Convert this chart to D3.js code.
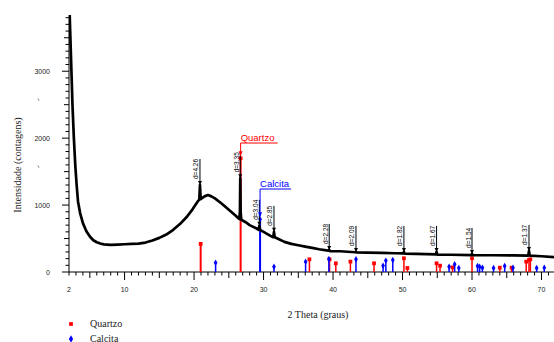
<!DOCTYPE html>
<html><head><meta charset="utf-8">
<script src="https://cdn.jsdelivr.net/npm/d3@7"></script>
<style>body{margin:0;background:#fff}svg{display:block}</style>
</head><body>
<script>
// ---- data ----
const theta = [2.0,2.1,2.2,2.35,2.5,2.7,2.9,3.1,3.3,3.6,4.0,4.5,5.0,5.5,6.0,6.5,7.0,8.0,9.0,10.0,11.0,12.0,13.0,14.0,15.0,16.0,17.0,18.0,19.0,19.8,20.5,20.75,20.85,20.95,21.5,22.0,22.5,23.0,24.0,25.0,26.0,26.5,26.6,26.65,26.7,26.8,27.5,28.0,29.0,29.3,29.4,29.5,30.0,31.0,31.4,31.5,31.6,32.0,33.0,34.0,35.0,36.0,37.0,38.0,39.3,39.45,39.6,41.0,43.2,43.3,43.4,45.0,47.0,49.0,50.1,50.2,50.3,52.0,54.8,54.9,55.0,57.0,59.9,60.0,60.1,63.0,66.0,68.1,68.2,68.3,70.0,71.8];
const counts = [3840,3840,3500,3000,2500,2000,1600,1300,1050,880,730,610,530,475,445,425,412,405,410,415,420,425,440,470,510,560,630,720,830,940,1050,1080,1300,1090,1130,1150,1130,1100,1020,930,840,790,900,1400,900,780,740,700,650,630,690,630,600,540,520,600,520,500,450,420,400,380,360,340,320,330,310,310,295,300,292,290,285,280,278,300,275,270,262,300,260,258,252,270,250,250,248,245,315,245,235,222];
const quartzPos = [20.95,26.7,36.6,39.5,40.4,42.5,45.9,50.2,50.7,54.9,55.4,57.2,60.0,64.0,65.7,67.8,68.2,68.4];
const quartzInt = [420,1700,190,190,130,155,130,205,60,130,95,70,205,65,65,155,180,190];
const calcitePos = [23.1,29.5,31.5,36.05,39.4,43.3,47.2,47.6,48.6,56.7,57.5,58.1,60.8,61.1,61.5,63.1,64.7,65.9,69.3,70.4];
const calciteInt = [140,790,80,155,195,190,95,170,180,80,115,60,90,80,65,60,90,65,60,65];
const dTheta = [20.85,26.65,29.4,31.5,39.45,43.3,50.2,54.9,60.0,68.2];
const dInt = [1300,1400,690,600,330,300,300,300,270,315];
const dText = ["d=4.26","d=3.35","d=3.04","d=2.85","d=2.28","d=2.09","d=1.82","d=1.67","d=1.54","d=1.37"];
const xTickLabels = [2,10,20,30,40,50,60,70];
const yTickLabels = [0,1000,2000,3000];

// ---- chart ----
const W = 554, H = 342;
const svg = d3.select("body").append("svg").attr("width", W).attr("height", H);
const x = d3.scaleLinear().domain([2, 71.8]).range([69, 554]);
const y = d3.scaleLinear().domain([0, 3840]).range([272, 15]);
const sans = "'Liberation Sans', Arial, sans-serif";
const serif = "'Liberation Serif', 'Times New Roman', serif";

svg.append("defs").append("clipPath").attr("id","clip")
  .append("rect").attr("x",69).attr("y",15).attr("width",486).attr("height",258);

// x axis ticks
const minorX = d3.range(2, 72, 1);
const gx = svg.append("g");
gx.append("line").attr("x1",69).attr("x2",554).attr("y1",272).attr("y2",272).attr("stroke","#000").attr("stroke-width",1);
gx.selectAll("line.t").data(minorX).join("line").attr("class","t")
  .attr("x1",d=>x(d)).attr("x2",d=>x(d)).attr("y1",272)
  .attr("y2",d=> d%10===0 ? 280 : (d%5===0 ? 278 : 275.5))
  .attr("stroke","#000").attr("stroke-width",1);
gx.selectAll("text").data(xTickLabels).join("text")
  .attr("x",d=>x(d)).attr("y",292).attr("text-anchor","middle")
  .attr("font-family",sans).attr("font-size",7).attr("fill","#222").text(d=>d);

// y axis ticks
const minorY = d3.range(0, 3900, 100);
const gy = svg.append("g");
gy.append("line").attr("x1",69).attr("x2",69).attr("y1",15).attr("y2",272).attr("stroke","#000").attr("stroke-width",1);
gy.selectAll("line.t").data(minorY).join("line").attr("class","t")
  .attr("y1",d=>y(d)).attr("y2",d=>y(d)).attr("x1",69)
  .attr("x2",d=> d%1000===0 ? 62 : (d%500===0 ? 64 : 65.5))
  .attr("stroke","#000").attr("stroke-width",1);
gy.selectAll("text").data(yTickLabels).join("text")
  .attr("x",50).attr("y",d=>y(d)+2.5).attr("text-anchor","end")
  .attr("font-family",sans).attr("font-size",7).attr("fill","#222").text(d=>d);

// stray marks
[2500,1500].forEach(v=>{
  svg.append("line").attr("x1",38).attr("x2",39).attr("y1",y(v)-6).attr("y2",y(v)-4).attr("stroke","#555").attr("stroke-width",0.8);
});

// reference stems
function stems(pos, val, color, shape){
  const g = svg.append("g");
  pos.forEach((p,i)=>{
    g.append("line").attr("x1",x(p)).attr("x2",x(p)).attr("y1",y(0)).attr("y2",y(val[i]))
      .attr("stroke",color).attr("stroke-width", val[i]>300?2:1.5);
    g.append("path").attr("d", d3.symbol().type(shape).size(shape===d3.symbolSquare?14:12)())
      .attr("transform",`translate(${x(p)},${y(val[i])})`).attr("fill",color);
  });
}
stems(quartzPos, quartzInt, "#ff0000", d3.symbolSquare);
stems(calcitePos, calciteInt, "#0000ff", d3.symbolDiamond);

// experimental curve
const line = d3.line().x((d,i)=>x(theta[i])).y((d,i)=>y(counts[i]));
svg.append("path").datum(counts).attr("d",line).attr("fill","none")
  .attr("stroke","#000").attr("stroke-width",2.7).attr("stroke-linejoin","round")
  .attr("clip-path","url(#clip)");

// d-spacing labels
dTheta.forEach((t,i)=>{
  const px = x(t), py = y(dInt[i]);
  svg.append("line").attr("x1",px).attr("x2",px).attr("y1",py-26).attr("y2",py).attr("stroke","#000").attr("stroke-width",1);
  svg.append("path").attr("d",`M${px-2},${py-4}L${px+2},${py-4}L${px},${py}Z`).attr("fill","#000");
  svg.append("text").attr("transform",`translate(${px-1.5},${py-6}) rotate(-90)`)
    .attr("font-family",sans).attr("font-size",6.5).attr("fill","#000").text(dText[i]);
});

// phase annotations
function callout(t, v, label, color, ty){
  const px = x(t);
  const tx = px;
  const tw = label==="Quartzo" ? 37 : 31;
  svg.append("text").attr("x",tx).attr("y",ty).attr("font-family",sans).attr("font-size",9.5).attr("fill",color).text(label);
  svg.append("line").attr("x1",tx).attr("x2",tx+tw).attr("y1",ty+2).attr("y2",ty+2).attr("stroke",color).attr("stroke-width",1);
  svg.append("line").attr("x1",px).attr("x2",px).attr("y1",ty+2).attr("y2",y(v)-3).attr("stroke",color).attr("stroke-width",1);
  const ay = y(v)-2;
  svg.append("path").attr("d",`M${px-2},${ay-5}L${px+2},${ay-5}L${px},${ay}Z`).attr("fill",color);
}
callout(26.7, 1700, "Quartzo", "#ff0000", 141);
callout(29.5, 790, "Calcita", "#0000ff", 187);

// axis titles
svg.append("text").attr("transform","translate(21,165) rotate(-90)").attr("text-anchor","middle")
  .attr("font-family",serif).attr("font-size",10).attr("fill","#222").text("Intensidade (contagens)");
svg.append("text").attr("x",318).attr("y",318).attr("text-anchor","middle")
  .attr("font-family",serif).attr("font-size",10).attr("fill","#222").text("2 Theta (graus)");

// legend
svg.append("path").attr("d", d3.symbol().type(d3.symbolSquare).size(14)()).attr("transform","translate(71,324)").attr("fill","#ff0000");
svg.append("text").attr("x",90).attr("y",327).attr("font-family",serif).attr("font-size",10).attr("fill","#222").text("Quartzo");
svg.append("path").attr("d", d3.symbol().type(d3.symbolDiamond).size(16)()).attr("transform","translate(71,339)").attr("fill","#0000ff");
svg.append("text").attr("x",90).attr("y",341.5).attr("font-family",serif).attr("font-size",10).attr("fill","#222").text("Calcita");
</script>
</body></html>
